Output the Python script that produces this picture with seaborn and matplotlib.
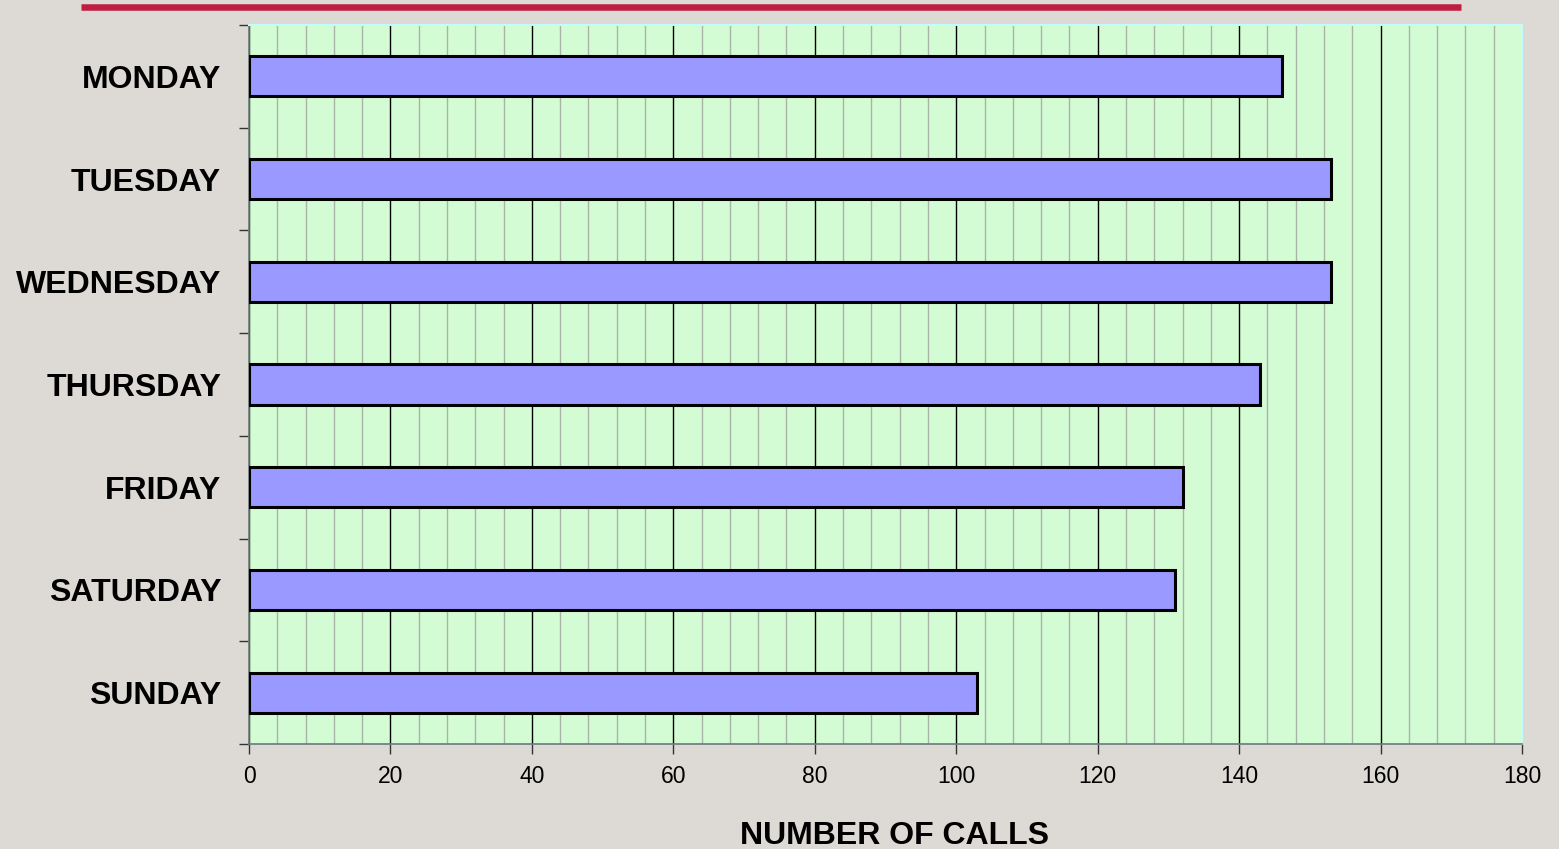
"""Calls per weekday, horizontal bar chart."""

import numpy as np
import pandas as pd
import matplotlib
matplotlib.use("Agg")
import matplotlib.pyplot as plt
from matplotlib.lines import Line2D
from matplotlib.ticker import MultipleLocator, FixedLocator
import seaborn as sns

days = ["MONDAY", "TUESDAY", "WEDNESDAY", "THURSDAY", "FRIDAY", "SATURDAY", "SUNDAY"]
calls = [146, 153, 153, 143, 132, 131, 103]
x_ticks = [0, 20, 40, 60, 80, 100, 120, 140, 160, 180]

df = pd.DataFrame({"day": days, "calls": calls})

sns.set_style("white")
plt.rcParams['font.family'] = ['Liberation Sans', 'DejaVu Sans']
plt.rcParams['text.color'] = "black"
plt.rcParams['axes.labelcolor'] = "black"
plt.rcParams['xtick.color'] = "black"
plt.rcParams['ytick.color'] = "black"

fig = plt.figure(figsize=(15.59, 8.49), dpi=100)
fig.patch.set_facecolor("#dddad5")
ax = fig.add_axes([249 / 1559, 105 / 849, 1273 / 1559, 719 / 849])
ax.set_facecolor("#d4fcd4")

sns.barplot(data=df, x="calls", y="day", orient="h", color="#9999ff",
            saturation=1, width=0.39, edgecolor="black", linewidth=2.2,
            ax=ax, zorder=3)

ax.set_xlim(0, 180)
ax.set_ylim(len(days) - 0.5, -0.5)

# grid: major every 20, minor every 4
ax.xaxis.set_major_locator(FixedLocator(x_ticks))
ax.xaxis.set_minor_locator(MultipleLocator(4))
ax.grid(True, axis="x", which="major", color="black", linewidth=1.0, zorder=1)
ax.grid(True, axis="x", which="minor", color="#a8b4a8", linewidth=1.0, zorder=1)
ax.set_axisbelow(True)

# y ticks between categories
ax.yaxis.set_minor_locator(FixedLocator(np.arange(-0.5, len(days), 1.0)))
ax.tick_params(axis="y", which="major", length=0, pad=20, labelsize=23,
               labelcolor="black")
ax.tick_params(axis="y", which="minor", length=7, width=1, color="#333333", left=True)
for lbl in ax.get_yticklabels():
    lbl.set_fontweight("bold")

ax.tick_params(axis="x", which="major", length=7, width=1, color="#333333",
               labelsize=16.5, pad=8, bottom=True, labelcolor="black")
ax.tick_params(axis="x", which="minor", length=0)

ax.set_ylabel("")
ax.set_xlabel("NUMBER OF CALLS", fontsize=23, fontweight="bold", color="black")
ax.xaxis.set_label_coords(0.507, -0.107)

for side in ["top", "right"]:
    ax.spines[side].set_color("#c4fcfc")
    ax.spines[side].set_linewidth(1.5)
for side in ["left", "bottom"]:
    ax.spines[side].set_color("#6a7a7a")
    ax.spines[side].set_linewidth(1.2)

# decorative red rule at the top
fig.add_artist(Line2D([81 / 1559, 1461 / 1559], [1 - 7 / 849, 1 - 7 / 849],
                      color="#be1e42", linewidth=4.7, solid_capstyle="butt",
                      transform=fig.transFigure))

fig.savefig("out.png", dpi=100, facecolor=fig.get_facecolor())
